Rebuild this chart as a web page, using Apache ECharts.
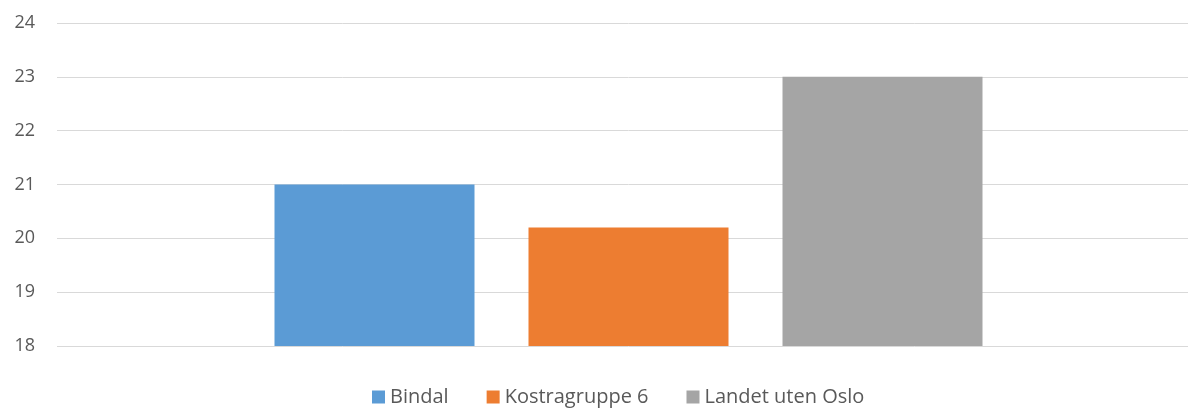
<!DOCTYPE html>
<html>
<head>
<meta charset="utf-8">
<script src="https://cdn.jsdelivr.net/npm/echarts@6/dist/echarts.min.js"></script>
<style>
  html, body { margin: 0; padding: 0; background: #fff; overflow: hidden; }
  #chart { width: 1200px; height: 408px; }
</style>
</head>
<body>
<div id="chart"></div>
<script>
var categories = [''];
var seriesNames = ['Bindal', 'Kostragruppe 6', 'Landet uten Oslo'];
var seriesValues = [[21], [20.2], [23]];
var seriesColors = ['#5b9bd5', '#ed7d31', '#a5a5a5'];

var myChart = echarts.init(document.getElementById('chart'));

var series = seriesNames.map(function (name, i) {
    return {
        name: name,
        type: 'bar',
        data: seriesValues[i],
        barWidth: 200,
        barGap: '27%',
        itemStyle: { color: seriesColors[i] }
    };
});

var option = {
    animation: false,
    textStyle: { fontFamily: 'Open Sans' },
    grid: {
        left: 57,
        right: 0,
        top: 23,
        bottom: 62,
        containLabel: false
    },
    legend: {
        data: seriesNames,
        bottom: -4,
        left: 367,
        icon: 'rect',
        itemWidth: 13,
        itemHeight: 13,
        itemGap: 38,
        textStyle: { color: '#595959', fontSize: 20, fontFamily: 'Open Sans' }
    },
    xAxis: {
        type: 'category',
        data: categories,
        axisLine: { show: false },
        axisTick: { show: false },
        axisLabel: { show: false }
    },
    yAxis: {
        type: 'value',
        min: 18,
        max: 24,
        interval: 1,
        axisLine: { show: false },
        axisTick: { show: false },
        axisLabel: { color: '#595959', fontSize: 18, margin: 22, fontFamily: 'Open Sans' },
        splitLine: { lineStyle: { color: '#d9d9d9', width: 1 } }
    },
    series: series
};

myChart.setOption(option);
</script>
</body>
</html>
